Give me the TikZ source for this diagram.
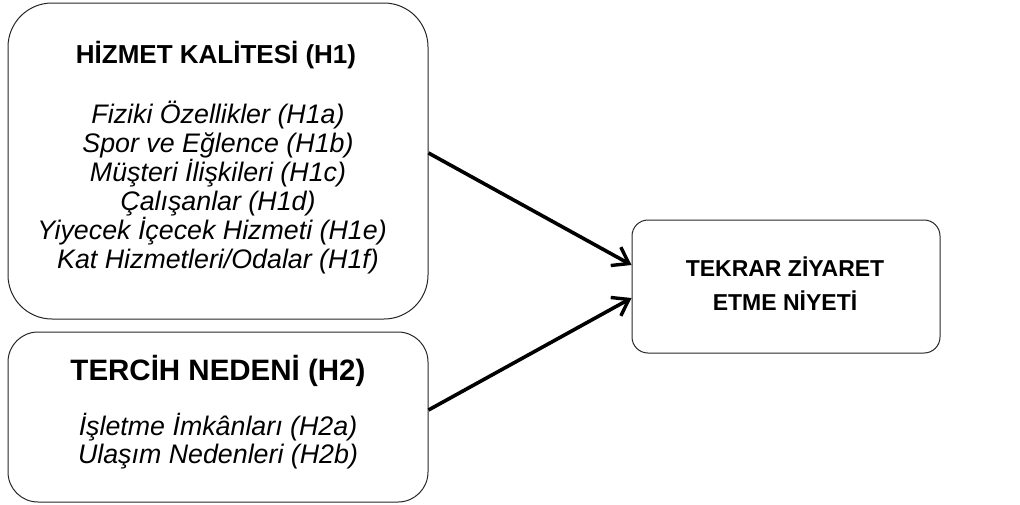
\documentclass[tikz,border=0pt]{standalone}
\usepackage{fontspec}
\setmainfont{Liberation Sans}
\usetikzlibrary{arrows.meta}
\begin{document}
\begin{tikzpicture}[x=1pt,y=-1pt,
  boxa/.style={draw=black!85,line width=1pt,inner sep=0pt},
  ttl/.style={font=\fontsize{26}{30}\selectfont\bfseries,inner sep=0pt,anchor=base},
  itl/.style={font=\fontsize{26.8}{30}\selectfont\itshape,inner sep=0pt,anchor=base},
  conn/.style={line width=3.6pt,-{Straight Barb[length=15pt,width=21pt,line width=3.4pt]}}]
\useasboundingbox (0,0) rectangle (1020,504);
\node[boxa,rounded corners=44pt,minimum width=420pt,minimum height=316pt] (box1) at (218,161) {};
\node[boxa,rounded corners=30pt,minimum width=420pt,minimum height=170pt] (box2) at (218,417) {};
\node[boxa,rounded corners=16pt,minimum width=308pt,minimum height=133pt] (box3) at (786,286.5) {};
\node[ttl] (t1) at (216,63) {HİZMET KALİTESİ (H1)};
\node[itl] (l1a) at (218,123) {Fiziki Özellikler (H1a)};
\node[itl] (l1b) at (218,152) {Spor ve Eğlence (H1b)};
\node[itl] (l1c) at (218,181) {Müşteri İlişkileri (H1c)};
\node[itl] (l1d) at (218,210) {Çalışanlar (H1d)};
\node[itl] (l1e) at (212,239) {Yiyecek İçecek Hizmeti (H1e)};
\node[itl] (l1f) at (218,268) {Kat Hizmetleri/Odalar (H1f)};
\node[ttl,font=\fontsize{29.5}{34}\selectfont\bfseries] (t2) at (218,380) {TERCİH NEDENİ (H2)};
\node[itl] (l2a) at (218,435) {İşletme İmkânları (H2a)};
\node[itl] (l2b) at (218,463) {Ulaşım Nedenleri (H2b)};
\node[ttl,font=\fontsize{23}{28}\selectfont\bfseries] (t3a) at (785,276) {TEKRAR ZİYARET};
\node[ttl,font=\fontsize{23}{28}\selectfont\bfseries] (t3b) at (785,310) {ETME NİYETİ};
\draw[conn] ([yshift=8pt]box1.east) -- ([yshift=21.5pt]box3.west);
\draw[conn] ([yshift=7pt]box2.east) -- ([yshift=-11.5pt]box3.west);
\end{tikzpicture}
\end{document}
